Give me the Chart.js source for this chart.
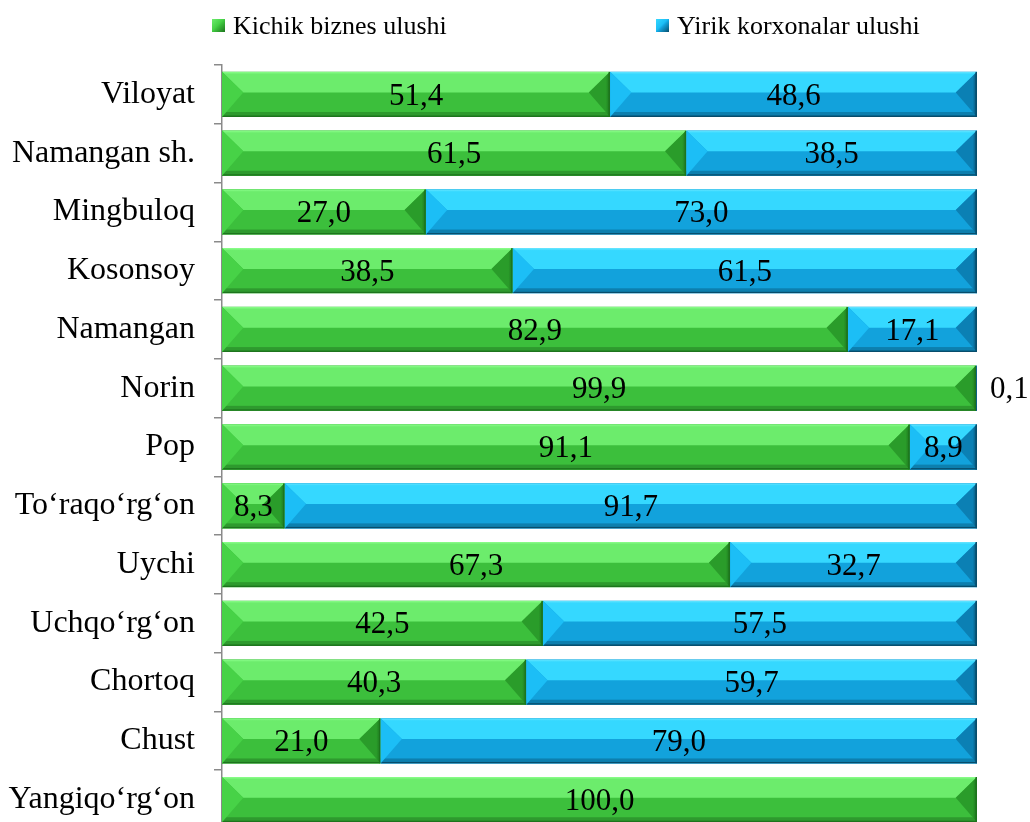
<!DOCTYPE html>
<html>
<head>
<meta charset="utf-8">
<script src="https://cdn.jsdelivr.net/npm/chart.js@4.4.1/dist/chart.umd.min.js"></script>
<style>
  html, body { margin: 0; padding: 0; background: #fff; overflow: hidden; width: 1030px; height: 822px; }
  #wrap { position: absolute; left: 0; top: 0; width: 1030px; height: 830px; }
  #legend { position: absolute; left: 0; top: 0; width: 1030px; height: 50px; font-family: "Liberation Serif", "Times New Roman", serif; font-size: 26px; color: #000; }
  .li { position: absolute; top: 11px; white-space: nowrap; line-height: 30px; }
  .sq { position: absolute; width: 13px; height: 13px; top: 8px; }
  .tx { position: absolute; left: 21px; top: 0; }
</style>
</head>
<body>
<div id="wrap"><canvas id="c"></canvas></div>
<div id="legend"></div>
<script>
const categories = ["Viloyat", "Namangan sh.", "Mingbuloq", "Kosonsoy", "Namangan", "Norin", "Pop", "To‘raqo‘rg‘on", "Uychi", "Uchqo‘rg‘on", "Chortoq", "Chust", "Yangiqo‘rg‘on"];
const seriesNames = ["Kichik biznes ulushi", "Yirik korxonalar ulushi"];
const smallBusiness = [51.4, 61.5, 27.0, 38.5, 82.9, 99.9, 91.1, 8.3, 67.3, 42.5, 40.3, 21.0, 100.0];
const largeEnterprises = [48.6, 38.5, 73.0, 61.5, 17.1, 0.1, 8.9, 91.7, 32.7, 57.5, 59.7, 79.0, 0.0];

const palettes = [
  { base: '#3cbf3c', top: '#6cec6c', hi: '#8dff8d', left: '#47d247', right: '#2a9c2a', edge: '#1d741d', bottom: '#2e9a2e' },
  { base: '#12a2dc', top: '#35d8ff', hi: '#6ae6ff', left: '#1cbef6', right: '#0b80b4', edge: '#074d6c', bottom: '#0d7fae' }
];

// Legend (HTML, built from the series names)
const legendEl = document.getElementById('legend');
const legendPos = [212, 656];
seriesNames.forEach((name, i) => {
  const p = palettes[i];
  const item = document.createElement('div');
  item.className = 'li';
  item.style.left = legendPos[i] + 'px';
  const sq = document.createElement('div');
  sq.className = 'sq';
  sq.style.background = 'linear-gradient(135deg,' + p.top + ' 0%,' + p.left + ' 45%,' + p.base + ' 55%,' + p.edge + ' 100%)';
  const tx = document.createElement('span');
  tx.className = 'tx';
  tx.textContent = name;
  item.appendChild(sq); item.appendChild(tx);
  legendEl.appendChild(item);
});

function fmt(v) { return v.toFixed(1).replace('.', ','); }

const bevelPlugin = {
  id: 'bevel',
  afterDatasetsDraw(chart) {
    const ctx = chart.ctx;
    chart.data.datasets.forEach((ds, di) => {
      const meta = chart.getDatasetMeta(di);
      const p = palettes[di];
      meta.data.forEach((el, i) => {
        const pr = el.getProps(['x', 'y', 'base', 'height'], true);
        const L = Math.min(pr.x, pr.base), R = Math.max(pr.x, pr.base);
        const w = R - L; if (w < 0.5) return;
        const h = pr.height, T = pr.y - h / 2, B = pr.y + h / 2;
        const mid = T + h * 0.46;
        const d = Math.min(h * 0.47, w / 2);
        ctx.save();
        ctx.beginPath(); ctx.rect(L, T, w, h); ctx.clip();
        // bottom face
        ctx.fillStyle = p.base; ctx.fillRect(L, T, w, h);
        // bottom dark strip
        ctx.fillStyle = p.bottom; ctx.fillRect(L, B - 5, w, 5);
        ctx.fillStyle = p.edge; ctx.fillRect(L, B - 1.5, w, 1.5);
        // top face
        const g = ctx.createLinearGradient(0, T, 0, mid);
        g.addColorStop(0, p.hi); g.addColorStop(0.12, p.top); g.addColorStop(1, p.top);
        ctx.fillStyle = g;
        ctx.beginPath(); ctx.moveTo(L, T); ctx.lineTo(R, T); ctx.lineTo(R - d, mid); ctx.lineTo(L + d, mid); ctx.closePath(); ctx.fill();
        // left face
        ctx.fillStyle = p.left;
        ctx.beginPath(); ctx.moveTo(L, T); ctx.lineTo(L + d, mid); ctx.lineTo(L, B); ctx.closePath(); ctx.fill();
        // right face
        const gr = ctx.createLinearGradient(R - d, 0, R, 0);
        gr.addColorStop(0, p.right); gr.addColorStop(0.8, p.right); gr.addColorStop(1, p.edge);
        ctx.fillStyle = gr;
        ctx.beginPath(); ctx.moveTo(R, T); ctx.lineTo(R - d, mid); ctx.lineTo(R, B); ctx.closePath(); ctx.fill();
        ctx.fillStyle = p.edge; ctx.fillRect(R - 1.5, T, 1.5, h);
        ctx.restore();
      });
    });
    // data labels
    ctx.save();
    ctx.font = '31px "Liberation Serif", "Times New Roman", serif';
    ctx.fillStyle = '#000';
    ctx.textBaseline = 'middle';
    chart.data.datasets.forEach((ds, di) => {
      const meta = chart.getDatasetMeta(di);
      meta.data.forEach((el, i) => {
        const v = ds.data[i];
        if (!v) return;
        const pr = el.getProps(['x', 'y', 'base'], true);
        const L = Math.min(pr.x, pr.base), R = Math.max(pr.x, pr.base);
        if (R - L < 20) {
          ctx.textAlign = 'left';
          ctx.fillText(fmt(v), R + 13, pr.y + 2);
        } else {
          ctx.textAlign = 'center';
          ctx.fillText(fmt(v), (L + R) / 2, pr.y + 2);
        }
      });
    });
    ctx.restore();
  }
};

new Chart(document.getElementById('c'), {
  type: 'bar',
  data: {
    labels: categories,
    datasets: [
      { label: seriesNames[0], data: smallBusiness, backgroundColor: palettes[0].base, borderWidth: 0, categoryPercentage: 1, barPercentage: 0.77 },
      { label: seriesNames[1], data: largeEnterprises, backgroundColor: palettes[1].base, borderWidth: 0, categoryPercentage: 1, barPercentage: 0.77 }
    ]
  },
  options: {
    indexAxis: 'y',
    responsive: true,
    maintainAspectRatio: false,
    animation: false,
    layout: { padding: { top: 65, right: 53, bottom: 1, left: 0 } },
    plugins: { legend: { display: false }, tooltip: { enabled: false } },
    scales: {
      x: { stacked: true, min: 0, max: 100, display: false },
      y: {
        stacked: true,
        afterFit(scale) { scale.width = 222; scale.paddingTop = 0; scale.paddingBottom = 0; },
        grid: { drawOnChartArea: false, drawTicks: true, tickLength: 8, color: '#8a8a8a', lineWidth: 1.5, offset: true },
        border: { display: true, color: '#8a8a8a', width: 1.5 },
        ticks: { color: '#000', padding: 19, font: { family: '"Liberation Serif", "Times New Roman", serif', size: 32 } }
      }
    }
  },
  plugins: [bevelPlugin]
});
</script>
</body>
</html>
